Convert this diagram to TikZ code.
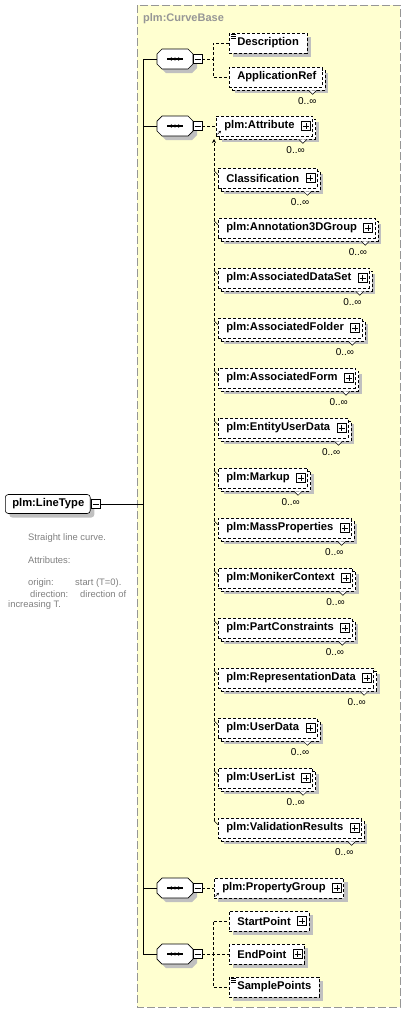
\documentclass[tikz,border=0pt]{standalone}
\usepackage{fontspec}
\setmainfont{Liberation Sans}
\usetikzlibrary{shadows,arrows.meta,calc}
\definecolor{bgyellow}{RGB}{255,255,208}
\definecolor{shadowgray}{RGB}{192,192,192}
\definecolor{framegray}{RGB}{150,150,150}
\definecolor{txtgray}{RGB}{128,128,128}
\newcommand\ptx[1]{\hspace*{8pt}#1\hspace*{18pt}}
\newcommand\ntx[1]{\hspace*{8pt}#1\hspace*{8pt}}
\tikzset{
  dl/.style={dash pattern=on 3pt off 2pt, line width=0.6pt},
  elbase/.style={draw, dash pattern=on 3pt off 2pt, line width=0.6pt, fill=white, minimum height=20pt,
    inner xsep=0pt, inner ysep=0pt, anchor=west, font=\fontsize{11.2}{13}\selectfont\bfseries},
  single/.style={elbase, drop shadow={shadow xshift=4pt, shadow yshift=-4pt, opacity=1, fill=shadowgray}},
  multi/.style={elbase, drop shadow={shadow xshift=6pt, shadow yshift=-6pt, opacity=1, fill=shadowgray},
    general shadow={shadow xshift=3pt, shadow yshift=-3pt, fill=white, draw=black, dash pattern=on 3pt off 2pt, line width=0.6pt}},
  plusbox/.style={draw, solid, fill=white, minimum size=9pt, inner sep=0pt, line width=0.6pt,
    path picture={\draw[line width=0.6pt] ([xshift=1.5pt]path picture bounding box.west) -- ([xshift=-1.5pt]path picture bounding box.east)
      ([yshift=-1.5pt]path picture bounding box.north) -- ([yshift=1.5pt]path picture bounding box.south);}},
  minusbox/.style={draw, solid, fill=white, minimum size=9pt, inner sep=0pt, line width=0.6pt,
    path picture={\draw[line width=0.6pt] ([xshift=1.5pt]path picture bounding box.west) -- ([xshift=-1.5pt]path picture bounding box.east);}},
  seq/.style={minimum width=36pt, minimum height=20pt, inner sep=0pt},
  mult/.style={font=\fontsize{10}{11}\selectfont, inner sep=0pt, anchor=base east},
  desc/.style={font=\fontsize{9.4}{11}\selectfont, text=txtgray, inner sep=0pt, anchor=west},
}
\begin{document}
\begin{tikzpicture}[x=1pt,y=-1pt]
\useasboundingbox (0,0) rectangle (406,1015);
% outer complex type frame
\draw[framegray, fill=bgyellow, dash pattern=on 8pt off 3pt, line width=0.8pt] (137,5) rectangle (400,1007);
\node[font=\fontsize{11}{13}\selectfont\bfseries, text=framegray, anchor=west, inner sep=0pt] (title) at (143,19) {plm:CurveBase};

% root element
\node[draw, solid, line width=0.6pt, rounded corners=3pt, fill=white, minimum height=19pt, inner xsep=0pt, inner ysep=0pt,
  anchor=west, font=\fontsize{11.2}{13}\selectfont\bfseries,
  drop shadow={shadow xshift=4pt, shadow yshift=-4pt, opacity=1, fill=shadowgray}] (lt) at (5,504) {\hspace*{7pt}plm:LineType\hspace*{6pt}};
\node[minusbox] (ltm) at ([xshift=5pt]lt.east) {};

\node[desc] (d1) at (28,538) {Straight line curve.};
\node[desc] (d2) at (28,560) {Attributes:};
\node[desc] (d3) at (28,583) {origin:};
\node[desc] (d3b) at (75,583) {start (T=0).};
\node[desc] (d4) at (30,594) {direction:};
\node[desc] (d4b) at (80,594) {direction of};
\node[desc] (d5) at (8,605) {increasing T.};

% compositors
\foreach \i/\cy in {1/59, 2/126, 3/888, 4/954} {
  \node[seq] (c\i) at (175,\cy) {};
  \fill[shadowgray] ($(c\i.center)+(4,4)$) +(-13,-10) -- +(13,-10) -- +(18,-5) -- +(18,5) -- +(13,10) -- +(-13,10) -- +(-18,5) -- +(-18,-5) -- cycle;
  \draw[line width=0.7pt, fill=white] (c\i.center) +(-13,-10) -- +(13,-10) -- +(18,-5) -- +(18,5) -- +(13,10) -- +(-13,10) -- +(-18,5) -- +(-18,-5) -- cycle;
  \draw[line width=1.1pt] ([xshift=-8pt]c\i.center) -- ([xshift=8pt]c\i.center);
  \fill ([xshift=-3.6pt]c\i.center) circle (1.7pt);
  \fill (c\i.center) circle (1.7pt);
  \fill ([xshift=3.6pt]c\i.center) circle (1.7pt);
  \node[minusbox] (n\i) at (197.5,\cy) {};
}
\coordinate (bt) at (143,59);
\coordinate (bb) at (143,954);
\draw[line width=0.8pt] (bt) -- (bb);
\draw[line width=0.8pt] (ltm.east) -- (ltm.east -| bt);
\foreach \i in {1,...,4} \draw[line width=0.8pt] (c\i.west -| bt) -- (c\i.west);

% sequence 1
\node[single] (desc) at (229,43) {\ntx{Description}};
\node[multi] (appref) at (229,77) {\hspace*{8pt}ApplicationRef\hspace*{6pt}};
\foreach \y in {1.5,3.5,5.5} \draw[solid, line width=0.7pt] ([shift={(1.5,\y)}]desc.north west) -- ++(5,0);
\draw[dl] (n1.east) -- ++(11,0) |- (desc.west);
\draw[dl] (n1.east) -- ++(11,0) |- (appref.west);
\draw[solid, line width=0.5pt, fill=white] ([shift={(-14,3)}]appref.south east) -- ++(4,4) -- ++(4,-4);
\node[mult] (lapp) at ([shift={(-6,17)}]appref.south east) {0..∞};

% sequence 2 : substitution group head
\node[multi] (attr) at (216,126) {\ptx{plm:Attribute}};
\node[plusbox] (attrp) at ([xshift=-7pt]attr.east) {};
\draw[dl] (n2.east) -- (attr.west);
\draw[solid, line width=0.6pt, -{Stealth[length=2.5pt,width=2.5pt]}] ([shift={(1.5,-2)}]attr.south west) -- ++(3.5,-3.5);
\draw[solid, line width=0.5pt, fill=white] ([shift={(-14,3)}]attr.south east) -- ++(4,4) -- ++(4,-4);
\node[mult] (lattr) at ([shift={(-8,17)}]attr.south east) {0..∞};

\foreach \i/\t in {1/Classification, 2/plm:Annotation3DGroup, 3/plm:AssociatedDataSet, 4/plm:AssociatedFolder,
  5/plm:AssociatedForm, 6/plm:EntityUserData, 7/plm:Markup, 8/plm:MassProperties, 9/plm:MonikerContext,
  10/plm:PartConstraints, 11/plm:RepresentationData, 12/plm:UserData, 13/plm:UserList, 14/plm:ValidationResults} {
  \pgfmathsetmacro\cy{178+(\i-1)*50}
  \node[multi] (m\i) at (218,\cy) {\ptx{\t}};
  \node[plusbox] (p\i) at ([xshift=-7pt]m\i.east) {};
  \draw[solid, line width=0.5pt, fill=white] ([shift={(-14,3)}]m\i.south east) -- ++(4,4) -- ++(4,-4);
  \node[mult] (l\i) at ([shift={(-8,17)}]m\i.south east) {0..∞};
  \draw[line width=0.5pt] ([shift={(-4,3)}]m\i.north west) -- ([shift={(0,7)}]m\i.north west);
}
\coordinate (subtop) at (214,139);
\coordinate (subbot) at ([shift={(-4,3)}]m14.north west);
\draw[dl, -{Stealth[length=4pt,width=4pt]}] (subbot) -- (subtop);

% sequence 3
\node[single] (pg) at (214,888) {\ptx{plm:PropertyGroup}};
\node[plusbox] (pgp) at ([xshift=-7pt]pg.east) {};
\draw[dl] (n3.east) -- (pg.west);
\draw[solid, line width=0.6pt, -{Stealth[length=2.5pt,width=2.5pt]}] ([shift={(1.5,-2)}]pg.south west) -- ++(3.5,-3.5);

% sequence 4
\node[single] (sp) at (229,921) {\ptx{StartPoint}};
\node[plusbox] (spp) at ([xshift=-7pt]sp.east) {};
\node[single] (ep) at (229,954) {\ptx{EndPoint}};
\node[plusbox] (epp) at ([xshift=-7pt]ep.east) {};
\node[single] (spts) at (229,987) {\ntx{SamplePoints}};
\foreach \y in {1.5,3.5,5.5} \draw[solid, line width=0.7pt] ([shift={(1.5,\y)}]spts.north west) -- ++(5,0);
\draw[dl] (n4.east) -- ++(11,0) |- (sp.west);
\draw[dl] (n4.east) -- (ep.west);
\draw[dl] (n4.east) -- ++(11,0) |- (spts.west);
\end{tikzpicture}
\end{document}
